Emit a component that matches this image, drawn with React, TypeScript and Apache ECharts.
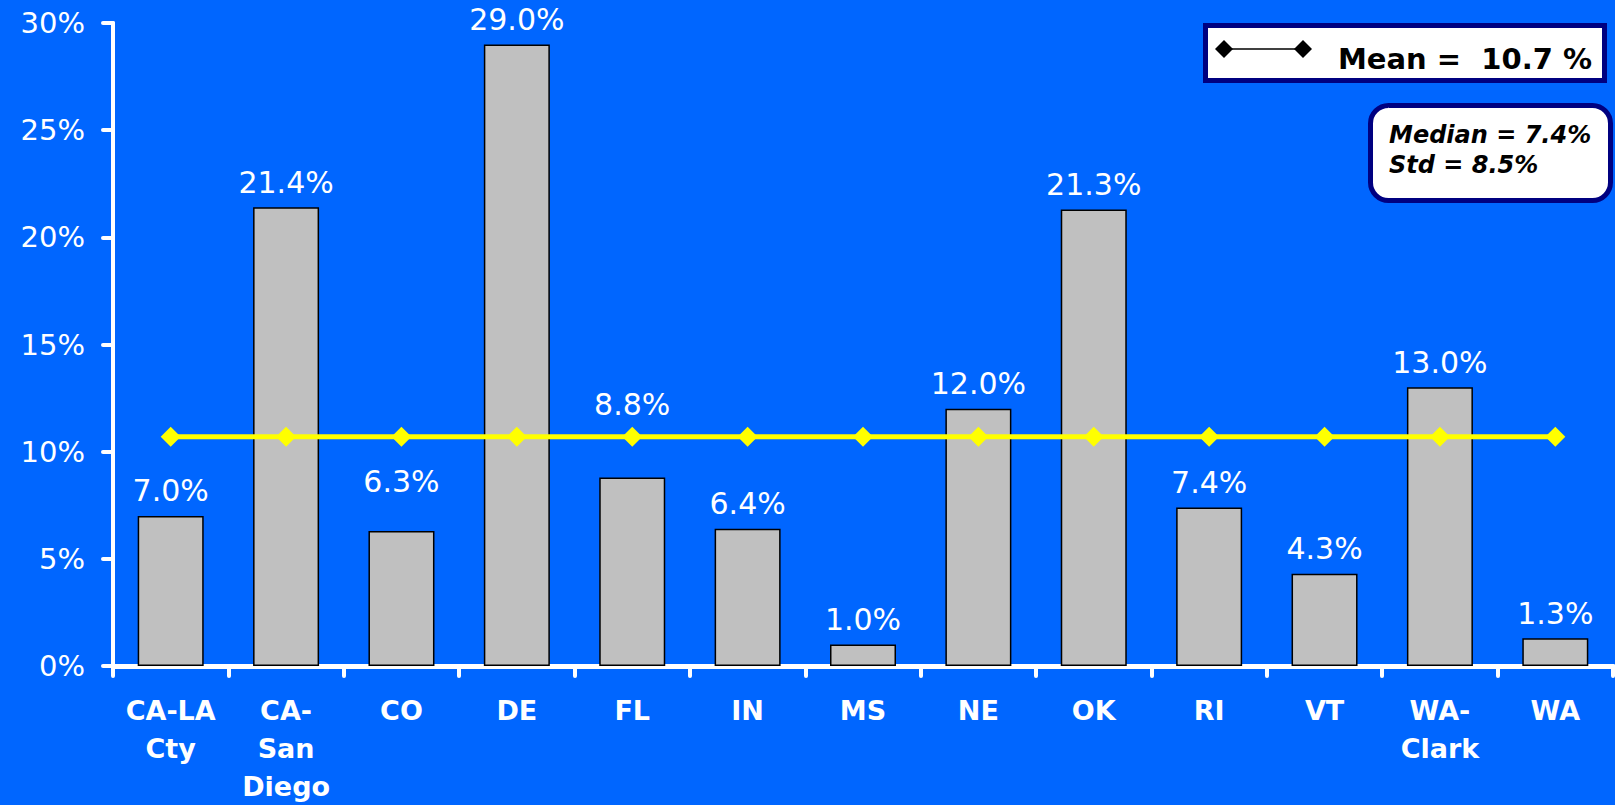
import React, { useEffect, useRef } from "react";
import * as echarts from "echarts";

const categories = ["CA-LA\nCty", "CA-\nSan\nDiego", "CO", "DE", "FL", "IN", "MS", "NE", "OK", "RI", "VT", "WA-\nClark", "WA"];
const rates = [7.0, 21.4, 6.3, 29.0, 8.8, 6.4, 1.0, 12.0, 21.3, 7.4, 4.3, 13.0, 1.3];
const meanValues = [10.7, 10.7, 10.7, 10.7, 10.7, 10.7, 10.7, 10.7, 10.7, 10.7, 10.7, 10.7, 10.7];
const labelLift = [0, 0, 24, 0, 48, 0, 0, 0, 0, 0, 0, 0, 0];
const meanText = "Mean =  10.7 %";
const medianText = "Median = 7.4%";
const stdText = "Std = 8.5%";
const yTicks = { min: 0, max: 30, interval: 5 };

const FONT = "DejaVu Sans";
const NAVY = "#000080";

export default function App() {
  const ref = useRef<HTMLDivElement>(null);
  useEffect(() => {
    document.body.style.margin = "0";
    const chart = echarts.init(ref.current!, null, { renderer: "svg" });
    const option: any = {
      animation: false,
      backgroundColor: "#0066FF",
      textStyle: { fontFamily: FONT },
      grid: { left: 113, right: 2, top: 23, bottom: 139 },
      xAxis: {
        type: "category",
        data: categories,
        boundaryGap: true,
        axisLine: { lineStyle: { color: "#fff", width: 5 } },
        axisTick: { show: true, length: 10, lineStyle: { color: "#fff", width: 4, cap: "round" } },
        axisLabel: {
          interval: 0,
          color: "#fff",
          fontSize: 27,
          fontWeight: "bold",
          lineHeight: 38,
          margin: 25,
          fontFamily: FONT,
        },
        splitLine: { show: false },
      },
      yAxis: {
        type: "value",
        min: yTicks.min,
        max: yTicks.max,
        interval: yTicks.interval,
        axisLine: { show: true, lineStyle: { color: "#fff", width: 4 } },
        axisTick: { show: true, length: 10, lineStyle: { color: "#fff", width: 4, cap: "round" } },
        axisLabel: { color: "#fff", fontSize: 29, margin: 28, formatter: "{value}%", fontFamily: FONT },
        splitLine: { show: false },
      },
      series: [
        {
          type: "bar",
          data: rates.map((v, i) => ({
            value: v,
            label: { offset: [0, -labelLift[i]] },
          })),
          barWidth: 66,
          itemStyle: { color: "#C0C0C0", borderColor: "#000", borderWidth: 1.5 },
          label: {
            show: true,
            position: "top",
            distance: 10,
            color: "#fff",
            fontSize: 30,
            fontFamily: FONT,
            formatter: (p: any) => p.value.toFixed(1) + "%",
          },
          z: 2,
        },
        {
          type: "line",
          data: meanValues,
          symbol: "diamond",
          symbolSize: 20,
          lineStyle: { color: "#FFFF00", width: 5 },
          itemStyle: { color: "#FFFF00" },
          z: 3,
        },
      ],
      graphic: [
        {
          type: "rect",
          shape: { x: 1205.5, y: 25.5, width: 399, height: 55 },
          style: { fill: "#fff", stroke: NAVY, lineWidth: 5 },
          z: 10,
        },
        {
          type: "line",
          shape: { x1: 1224, y1: 49, x2: 1303, y2: 49 },
          style: { stroke: "#000", lineWidth: 1.5 },
          z: 11,
        },
        {
          type: "polygon",
          shape: { points: [[1215, 49], [1224, 40], [1233, 49], [1224, 58]] },
          style: { fill: "#000" },
          z: 11,
        },
        {
          type: "polygon",
          shape: { points: [[1294, 49], [1303, 40], [1312, 49], [1303, 58]] },
          style: { fill: "#000" },
          z: 11,
        },
        {
          type: "text",
          x: 1338,
          y: 59,
          style: {
            text: meanText,
            fill: "#000",
            font: `bold 29px "${FONT}"`,
            textVerticalAlign: "middle",
          },
          z: 11,
        },
        {
          type: "rect",
          shape: { x: 1370.5, y: 105.5, width: 240, height: 95, r: 18 },
          style: { fill: "#fff", stroke: NAVY, lineWidth: 5 },
          z: 10,
        },
        {
          type: "text",
          x: 1389,
          y: 135,
          style: {
            text: medianText,
            fill: "#000",
            font: `italic bold 24px "${FONT}"`,
            textVerticalAlign: "middle",
          },
          z: 11,
        },
        {
          type: "text",
          x: 1389,
          y: 165,
          style: {
            text: stdText,
            fill: "#000",
            font: `italic bold 24px "${FONT}"`,
            textVerticalAlign: "middle",
          },
          z: 11,
        },
      ],
    };
    chart.setOption(option);
    return () => chart.dispose();
  }, []);
  return <div ref={ref} style={{ width: 1615, height: 805 }} />;
}
